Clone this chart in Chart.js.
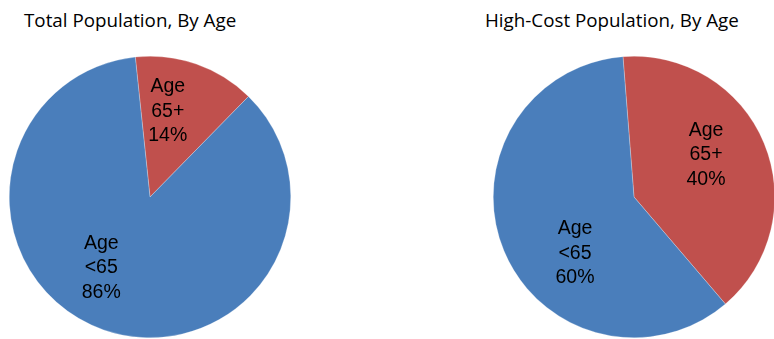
<!DOCTYPE html>
<html lang="en">
<head>
    <meta charset="UTF-8">
    <title>Population By Age</title>
    <script src="https://cdn.jsdelivr.net/npm/chart.js"></script>
    <style>
        body, html {
            margin: 0;
            padding: 0;
            width: 774px;
            height: 339px;
            overflow: hidden;
            background: #fff;
        }
        .title {
            position: absolute;
            top: 7px;
            font-family: "Open Sans", sans-serif;
            font-size: 18.8px;
            color: #000;
            white-space: nowrap;
        }
        .pie {
            position: absolute;
            top: 56px;
            width: 282px;
            height: 282px;
        }
    </style>
</head>
<body>

<div class="title" style="left: 24px;">Total Population, By Age</div>
<div class="title" style="left: 485px;">High-Cost Population, By Age</div>
<div class="pie" style="left: 9px;"><canvas id="totalChart"></canvas></div>
<div class="pie" style="left: 493px;"><canvas id="highCostChart"></canvas></div>

<script>
    // Age groups and shares (%)
    const categories = ['Age 65+', 'Age <65'];
    const totalShares = [14, 86];
    const highCostShares = [40, 60];
    const colors = ['#C0504D', '#4A7EBB'];

    // Slice labels: category on two lines, then the share
    const sliceLabels = {
        id: 'sliceLabels',
        afterDatasetsDraw(chart, args, opts) {
            const ctx = chart.ctx;
            const meta = chart.getDatasetMeta(0);
            const values = chart.data.datasets[0].data;
            ctx.save();
            ctx.font = '19.5px "Liberation Sans", Arial, sans-serif';
            ctx.fillStyle = '#000';
            ctx.textAlign = 'center';
            ctx.textBaseline = 'middle';
            meta.data.forEach((arc, i) => {
                const p = arc.getProps(['x', 'y', 'startAngle', 'endAngle', 'outerRadius']);
                const mid = (p.startAngle + p.endAngle) / 2;
                const r = p.outerRadius * opts.radius;
                const off = opts.offsets[i];
                const cx = p.x + Math.cos(mid) * r + off[0];
                const cy = p.y + Math.sin(mid) * r + off[1];
                const lines = chart.data.labels[i].split(' ').concat([values[i] + '%']);
                lines.forEach((t, k) => {
                    ctx.fillText(t, cx, cy + (k - 1) * 24.5);
                });
            });
            ctx.restore();
        }
    };

    function makePie(id, values, rotation, offsets) {
        return new Chart(document.getElementById(id), {
            type: 'pie',
            data: {
                labels: categories,
                datasets: [{
                    data: values,
                    backgroundColor: colors,
                    borderColor: 'rgba(255,255,255,0.5)',
                    borderWidth: 0.5
                }]
            },
            options: {
                responsive: true,
                maintainAspectRatio: false,
                animation: false,
                rotation: rotation,
                layout: { padding: 0 },
                plugins: {
                    legend: { display: false },
                    tooltip: { enabled: false },
                    sliceLabels: { radius: 0.6, offsets: offsets }
                }
            },
            plugins: [sliceLabels]
        });
    }

    makePie('totalChart', totalShares, -6, [[-10, -6], [-21, -9]]);
    makePie('highCostChart', highCostShares, -4.5, [[-6, -10], [19, 24]]);
</script>

</body>
</html>
